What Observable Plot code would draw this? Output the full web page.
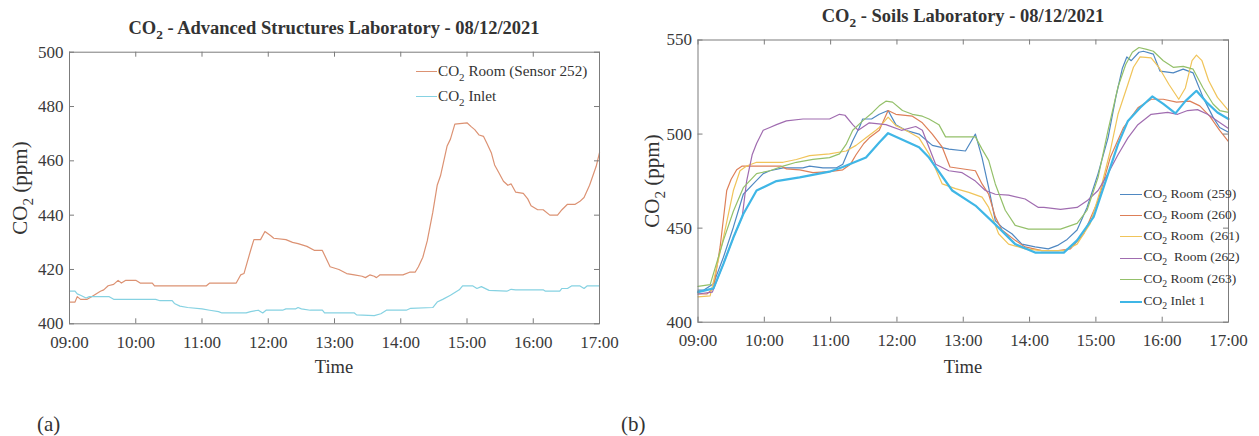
<!DOCTYPE html>
<html><head><meta charset="utf-8">
<script src="https://cdn.jsdelivr.net/npm/d3@7"></script>
<script src="https://cdn.jsdelivr.net/npm/@observablehq/plot@0.6"></script>
<style>
body{margin:0;background:#fff;}
#root{position:relative;width:1259px;height:436px;overflow:hidden;font-family:"Liberation Serif","Times New Roman",serif;color:#333;background:#fff;}
.t{position:absolute;white-space:pre;line-height:1;}
.t sub{font-size:0.72em;vertical-align:-0.42em;line-height:0;}
.panel{position:absolute;top:0;}
.ln{position:absolute;height:0;}
</style></head><body><div id="root"></div>
<script>
// ---------- DATA (minutes after 09:00, CO2 ppm) ----------
const xTickLabels = ["09:00","10:00","11:00","12:00","13:00","14:00","15:00","16:00","17:00"];
const yTicksA = [400, 420, 440, 460, 480, 500];
const yTicksB = [400, 450, 500, 550];

// Panel (a) — Advanced Structures Laboratory
const roomA_min = [0,5,7,10,16,20,24,28,31,35,40,44,47,51,60,64,75,77,124,127,151,155,158,164,167,173,177,182,185,196,202,207,215,222,229,236,244,251,258,265,268,272,276,278,281,302,308,313,316,320,324,329,333,336,342,345,349,360,364,367,371,375,378,382,385,389,393,397,400,404,411,415,418,424,429,435,442,446,451,458,462,466,471,477,480];
const roomA_val = [408,408,410,409,409,410,411,412,412.5,414,414.5,416,415,416,416,415,415,414,414,415,415,418,418.5,427,431,431,434,432.5,431.5,431,430,429.5,428.5,427,427,421,420,418.5,418,417.5,417,418,417.5,417,418,418,419,419,421,424.5,430.5,441,451,454.5,465.5,468,473.5,474,472.5,471.5,469.5,469,466.5,463,458.5,455.5,452.5,451,451.5,448.5,448,446,443.5,442,442,440,440,442,444,444,445,446.5,451,458,463];
const inletA_min = [0,5,7,10,15,18,36,40,78,82,93,95,100,107,120,127,135,138,160,164,171,175,178,193,196,205,207,210,218,229,231,258,260,276,282,287,305,309,329,333,338,345,353,356,365,369,373,380,396,400,404,429,431,444,446,451,455,462,466,469,480];
const inletA_val = [412,412,411,410.5,409.5,410,410,409,409,408.5,408.5,407.5,406.5,406,405.5,405,404.5,404,404,404.5,405,404,405,405,405.5,405.5,406,405.5,405,405,404,404,403.3,403,403.7,405,405,405.7,406,408,409,410.5,412.5,414,414,413,413.7,412.3,412,412.7,412.5,412.5,412,412,413,413,414,414,413,414,414];

// Panel (b) — Soils Laboratory
const r259_min = [0,5,14,23,32,41,50,59,65,77,95,101,113,125,131,140,146,149,157,164,172,179,188,200,212,227,242,251,257,263,269,275,284,293,305,317,326,334,343,352,362,371,378,384,388,392,399,403,412,418,430,439,448,457,466,472,480];
const r259_val = [417,417,420.5,434.5,450.5,468,473.5,479,480.5,482,482,483,482,482,484,496.5,503.5,508,508,510.5,512.5,505,502,500,494,492,491,500,487.5,471.5,454,450.5,447,441.5,440,439,441,444,449,461,479,498,519.5,535,541,539,543.5,544,542.5,533.5,532.5,534.5,532.5,519.5,509,503.5,501];
const r260_min = [0,8,14,20,26,30,35,40,75,80,92,104,119,131,138,143,150,155,164,172,179,194,203,212,221,228,251,257,263,269,275,287,296,311,326,337,349,362,373,385,398,410,421,433,445,454,463,472,480];
const r260_val = [415,415,418,440,470,476,481,483,483,481.5,481,479.5,480,481,484,489,495,498,502,512.5,510.5,509.5,506,500,493,482.5,480.5,473.5,468,456,449,443.5,440,438,438,439,447,464.5,487.5,503.5,514,518.5,518.5,517,517.5,515,509.5,502,496];
const r261_min = [0,11,23,32,38,44,53,77,89,101,119,134,143,152,161,164,172,179,188,200,209,221,233,245,257,263,272,281,296,311,331,343,355,364,373,380,389,394,400,410,417,426,435,441,447,451,456,462,470,480];
const r261_val = [413.5,414,445,470,480.5,483,485,485,486.5,488.5,489.5,491,494,498,502,503.5,509,504.5,502,498,489.5,473.5,471,469,466.5,461,447,441.5,439,438,438,441.5,452.5,470,491,510.5,526.5,535.5,541,540.5,535.5,526.5,518.5,524.5,539,542,539,528.5,519.5,512.5];
const r262_min = [0,13,23,32,40,44,49,53,59,65,71,80,95,119,128,133,140,145,155,170,184,197,203,208,215,227,239,251,260,269,281,296,308,313,328,343,352,362,371,380,389,398,410,425,434,443,452,461,470,480];
const r262_val = [415,416,431,445,456,475,489,495,502,503.5,505,507,508,508,510.5,510,505,502,506,505,502,504,502,494.5,484,480.5,479.5,475,470,468,467.5,465.5,461,461,460,461,464.5,470,479,489,498,505,510.5,511.5,510.5,512.5,513,510.5,507,503];
const r263_min = [0,11,23,32,41,53,65,77,89,104,119,128,134,140,149,158,164,170,176,185,194,203,209,218,224,251,257,263,269,278,287,299,311,328,343,352,362,371,380,387,393,399,406,412,421,430,439,448,457,466,472,480];
const r263_val = [419,420,443.5,459,471.5,479,480.5,483,485,486.5,487.5,489.5,494.5,502,507,511.5,515,517.5,517,512.5,510.5,509.5,508,505,498.5,498.5,492,486,473.5,459.5,451.5,449.5,449.5,449.5,452.5,459.5,477,502,525,537,543.5,546,545,544,539,535.5,536,534.5,524.5,516,512.5,511.5];
const inlet1_min = [0,14,23,32,41,53,71,92,119,131,152,164,172,200,209,230,251,269,287,305,331,343,358,370,380,389,400,411,421,432,441,451,460,470,480];
const inlet1_val = [416,418,431,445,457.5,470,475,477,480,482.5,487.5,495.5,500.5,493,487.5,470,462,452,441.5,437,437,443.5,456,477,494.5,507,514,520,516,511,517.5,523,517,511.5,508];

const seriesA = [
  {name: "Room (Sensor 252)", min: roomA_min, val: roomA_val, color: "#dc9273", width: 1.2},
  {name: "Inlet", min: inletA_min, val: inletA_val, color: "#86d2e2", width: 1.2}
];
const seriesB = [
  {name: "Room (259)", min: r259_min, val: r259_val, color: "#4f88c2", width: 1.2},
  {name: "Room (260)", min: r260_min, val: r260_val, color: "#dd7f58", width: 1.2},
  {name: "Room  (261)", min: r261_min, val: r261_val, color: "#f0c45a", width: 1.2},
  {name: " Room (262)", min: r262_min, val: r262_val, color: "#a06cb0", width: 1.2},
  {name: "Room (263)", min: r263_min, val: r263_val, color: "#94c06a", width: 1.2},
  {name: "Inlet 1", min: inlet1_min, val: inlet1_val, color: "#3fb6e6", width: 2.2}
];

// ---------- HELPERS ----------
const T0 = Date.UTC(2021, 11, 8, 9, 0);
const toDate = m => new Date(T0 + m * 60000);
const parseHM = s => { const [h, m] = s.split(":").map(Number); return toDate((h - 9) * 60 + m); };
const xTicks = xTickLabels.map(parseHM);
const root = document.getElementById("root");
const FRAME = "#7c7c7c";

function panel({left, width, height, mL, mR, mT, mB, yDomain, yTicks, series}) {
  const W = width - mL - mR, H = height - mT - mB;
  const marks = [];
  for (const s of series) {
    const rows = s.min.map((m, i) => ({t: toDate(m), v: s.val[i]}));
    marks.push(Plot.line(rows, {x: "t", y: "v", stroke: s.color, strokeWidth: s.width}));
  }
  marks.push(
    Plot.frame({stroke: FRAME}),
    Plot.tickX(xTicks, {x: d => d, stroke: FRAME, insetTop: H - 5}),
    Plot.tickX(xTicks, {x: d => d, stroke: FRAME, insetBottom: H - 5}),
    Plot.tickY(yTicks, {y: d => d, stroke: FRAME, insetRight: W - 5}),
    Plot.tickY(yTicks, {y: d => d, stroke: FRAME, insetLeft: W - 5}),
    Plot.axisX({ticks: xTicks, tickFormat: (d) => xTickLabels[xTicks.findIndex(t => +t === +d)], tickSize: 0, tickPadding: 12, label: null}),
    Plot.axisY({ticks: yTicks, tickSize: 0, tickPadding: 6, label: null})
  );
  const svg = Plot.plot({
    width, height,
    marginLeft: mL, marginRight: mR, marginTop: mT, marginBottom: mB,
    x: {type: "utc", domain: [xTicks[0], xTicks[xTicks.length - 1]]},
    y: {domain: yDomain},
    style: {fontFamily: "'Liberation Serif', 'Times New Roman', serif", fontSize: "17px", color: "#3a3a3a", background: "transparent", overflow: "visible"},
    marks
  });
  svg.classList.add("panel");
  svg.style.left = left + "px";
  root.appendChild(svg);
}

function text(html, {x, y, size, anchor = "start", bold = false, rotate = false}) {
  const d = document.createElement("div");
  d.className = "t";
  d.innerHTML = html;
  d.style.fontSize = size + "px";
  if (bold) d.style.fontWeight = "bold";
  d.style.left = x + "px";
  d.style.top = y + "px";
  let tf = "translateY(-50%)";
  if (anchor === "middle") tf = "translate(-50%,-50%)";
  if (rotate) tf = "translate(-50%,-50%) rotate(-90deg)";
  d.style.transform = tf;
  root.appendChild(d);
  return d;
}
function hline(x1, x2, y, color, w) {
  const d = document.createElement("div");
  d.className = "ln";
  d.style.left = x1 + "px";
  d.style.width = (x2 - x1) + "px";
  d.style.top = (y - w / 2) + "px";
  d.style.borderTop = w + "px solid " + color;
  root.appendChild(d);
}

// ---------- PANEL (a) ----------
panel({left: 0, width: 630, height: 380, mL: 69, mR: 31, mT: 51.7, mB: 56.7, yDomain: [400, 500], yTicks: yTicksA, series: seriesA});
text("CO<sub>2</sub> - Advanced Structures Laboratory - 08/12/2021", {x: 334, y: 28, size: 18.5, anchor: "middle", bold: true});
text("CO<sub>2</sub> (ppm)", {x: 20, y: 188, size: 21, rotate: true});
text("Time", {x: 334, y: 367, size: 18.5, anchor: "middle"});
text("(a)", {x: 37, y: 424, size: 21});
seriesA.forEach((s, i) => {
  const y = [72, 97][i];
  hline(416, 437, y, s.color, 1.2);
  text("CO<sub>2</sub> " + s.name, {x: 438, y: y - 1.5, size: 15.2});
});

// ---------- PANEL (b) ----------
panel({left: 630, width: 629, height: 380, mL: 67.5, mR: 31, mT: 39.5, mB: 58.3, yDomain: [400, 550], yTicks: yTicksB, series: seriesB});
text("CO<sub>2</sub> - Soils Laboratory - 08/12/2021", {x: 963, y: 16, size: 18.5, anchor: "middle", bold: true});
text("CO<sub>2</sub> (ppm)", {x: 652, y: 181, size: 21, rotate: true});
text("Time", {x: 963, y: 367, size: 18.5, anchor: "middle"});
text("(b)", {x: 621, y: 424, size: 21});
seriesB.forEach((s, i) => {
  const y = [195, 215.7, 236.7, 258.3, 280, 301.7][i];
  hline(1120, 1142, y, s.color, s.width);
  text("CO<sub>2</sub> " + s.name, {x: 1143.5, y: y - 1, size: 13.5});
});
</script></body></html>
